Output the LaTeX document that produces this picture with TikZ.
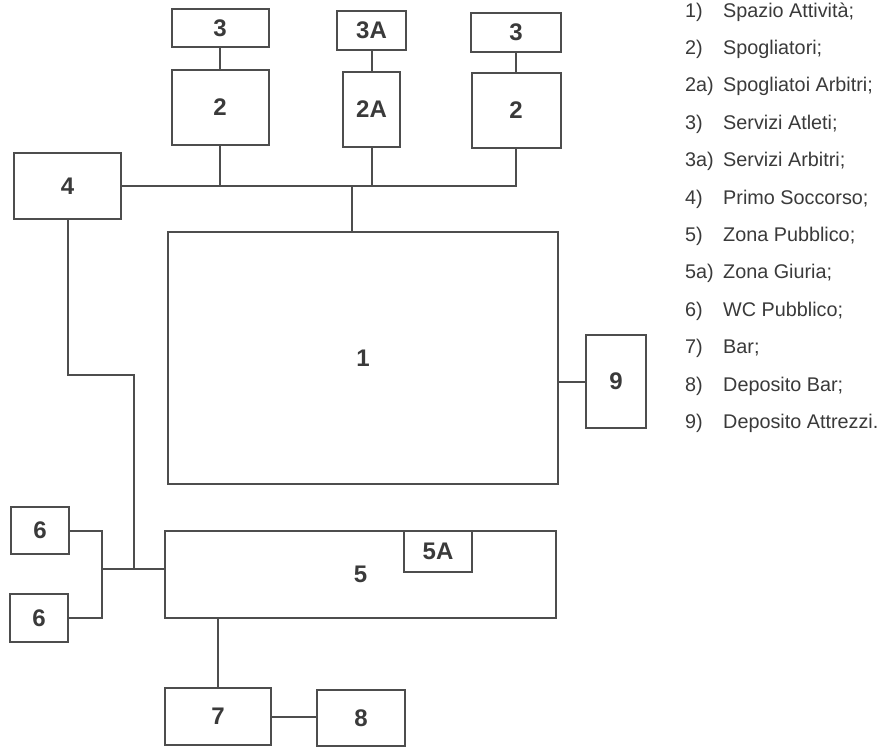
\documentclass[tikz,border=0pt]{standalone}
\usepackage{fontspec}
\setmainfont{Liberation Sans}
\definecolor{linec}{HTML}{4D4D4D}
\definecolor{textc}{HTML}{3A3A3A}
\newcommand{\boxfont}{\fontsize{24}{28}\selectfont\bfseries}
\newcommand{\legfont}{\fontsize{19.8}{22}\selectfont}
\tikzset{
  box/.style={draw=linec, line width=2pt, inner sep=0pt, font=\boxfont, text=textc, fill=white},
  conn/.style={draw=linec, line width=2pt},
  leg/.style={anchor=base west, inner sep=0pt, font=\legfont, text=textc}
}
\begin{document}
\begin{tikzpicture}[x=1pt,y=-1pt]
\useasboundingbox[fill=white] (0,0) rectangle (883,748);
% top row
\node[box, minimum width=97pt, minimum height=38pt] (b3l) at (220,28) {3};
\node[box, minimum width=97pt, minimum height=75pt] (b2l) at (220,107.5) {2};
\node[box, minimum width=69pt, minimum height=39pt] (b3a) at (371.5,30.5) {3A};
\node[box, minimum width=57pt, minimum height=75pt] (b2a) at (371.5,109.5) {2A};
\node[box, minimum width=90pt, minimum height=39pt] (b3r) at (516,32.5) {3};
\node[box, minimum width=89pt, minimum height=75pt] (b2r) at (516,110.5) {2};
\node[box, minimum width=107pt, minimum height=66pt] (b4) at (67.5,186) {4};
% main
\node[box, minimum width=390pt, minimum height=252pt] (b1) at (363,358) {1};
\node[box, minimum width=60pt, minimum height=93pt] (b9) at (616,381.5) {9};
\node[box, minimum width=391pt, minimum height=87pt] (b5) at (360.5,574.5) {5};
\node[box, minimum width=68pt, minimum height=41pt] (b5a) at (438,551.5) {5A};
\node[box, minimum width=58pt, minimum height=47pt] (b6t) at (40,530.5) {6};
\node[box, minimum width=58pt, minimum height=48pt] (b6b) at (39,618) {6};
\node[box, minimum width=106pt, minimum height=57pt] (b7) at (218,716.5) {7};
\node[box, minimum width=88pt, minimum height=56pt] (b8) at (361,718) {8};
% junction coordinates
\coordinate (jb) at (352,0);
\coordinate (kL) at (134,375);
\coordinate (kM) at (134,569);
\coordinate (kS) at (102,569);
% connectors
\draw[conn] (b2l.north) -- (b2l.north |- b3l.south);
\draw[conn] (b2a.north) -- (b2a.north |- b3a.south);
\draw[conn] (b2r.north) -- (b2r.north |- b3r.south);
\draw[conn] (b4.east) -- (b4.east -| b2r.south) -- (b2r.south);
\draw[conn] (b2l.south) -- (b2l.south |- b4.east);
\draw[conn] (b2a.south) -- (b2a.south |- b4.east);
\draw[conn] (jb |- b4.east) -- (jb |- b1.north);
\draw[conn] (b9.west) -- (b9.west -| b1.east);
\draw[conn] (b4.south) |- (kL) -- (kM) -- (kM -| b5.west);
\draw[conn] (b6t.east) -| (kS |- b6b.east) -- (b6b.east);
\draw[conn] (kS) -- (kM);
\draw[conn] (b7.north) -- (b7.north |- b5.south);
\draw[conn] (b7.east) -- (b7.east -| b8.west);
% legend
\foreach \n/\t [count=\i from 0] in {1)/Spazio Attività;, 2)/Spogliatori;, 2a)/Spogliatoi Arbitri;, 3)/Servizi Atleti;, 3a)/Servizi Arbitri;, 4)/Primo Soccorso;, 5)/Zona Pubblico;, 5a)/Zona Giuria;, 6)/WC Pubblico;, 7)/Bar;, 8)/Deposito Bar;, 9)/Deposito Attrezzi.}{
  \node[leg] (ln\i) at (685,{17+37.4*\i}) {\n};
  \node[leg] (lt\i) at (723,{17+37.4*\i}) {\t};
}
\end{tikzpicture}
\end{document}
